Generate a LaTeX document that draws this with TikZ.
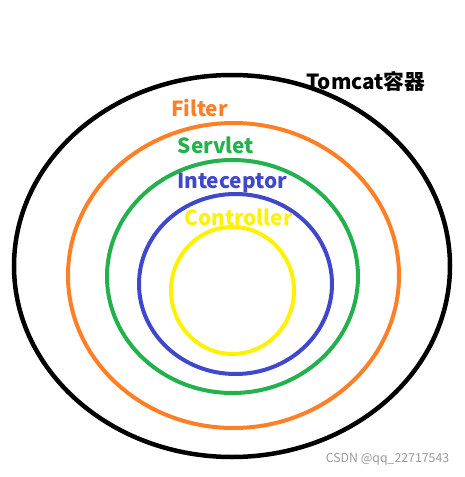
\documentclass[tikz,border=0pt]{standalone}
\usepackage{fontspec}
\setmainfont{Noto Sans CJK SC}
\usepackage{xcolor}
\usetikzlibrary{positioning}
\definecolor{tomblack}{RGB}{0,0,0}
\definecolor{filterorange}{RGB}{255,127,39}
\definecolor{servletgreen}{RGB}{34,177,76}
\definecolor{interblue}{RGB}{63,72,204}
\definecolor{ctrlyellow}{RGB}{255,242,0}

\begin{document}
\begin{tikzpicture}[x=1pt,y=-1pt,
  ring/.style={line width=4pt},
  lbl/.style={font=\fontsize{20.8}{21}\selectfont\bfseries,inner sep=0pt}]
\useasboundingbox (0,0) rectangle (465,477);
% nested rings
\draw[ring,line width=4.5pt,tomblack] (232,266) ellipse [x radius=218,y radius=191];
\draw[ring,filterorange] (233.5,275.5) ellipse [x radius=165.5,y radius=152.5];
\draw[ring,servletgreen] (232.5,276.5) ellipse [x radius=125.5,y radius=116.5];
\draw[ring,interblue] (235.5,284) ellipse [x radius=96.5,y radius=90];
\draw[ring,ctrlyellow] (232.5,290.5) ellipse [x radius=61.5,y radius=63.5];
% labels
\node[lbl,tomblack] (tomcat) at (366,81) {Tomcat容器};
\node[lbl,filterorange] (filter) at (199.5,108) {Filter};
\node[lbl,servletgreen] (servlet) at (216,145) {Servlet};
\node[lbl,interblue] (inter) at (232,183) {Inteceptor};
\node[lbl,ctrlyellow] (ctrl) at (238.5,217) {Controller};
\node[font=\fontsize{12.3}{12}\selectfont,text=gray!80,inner sep=0pt] (mark) at (387.5,459) {CSDN @qq\_22717543};
\end{tikzpicture}
\end{document}
